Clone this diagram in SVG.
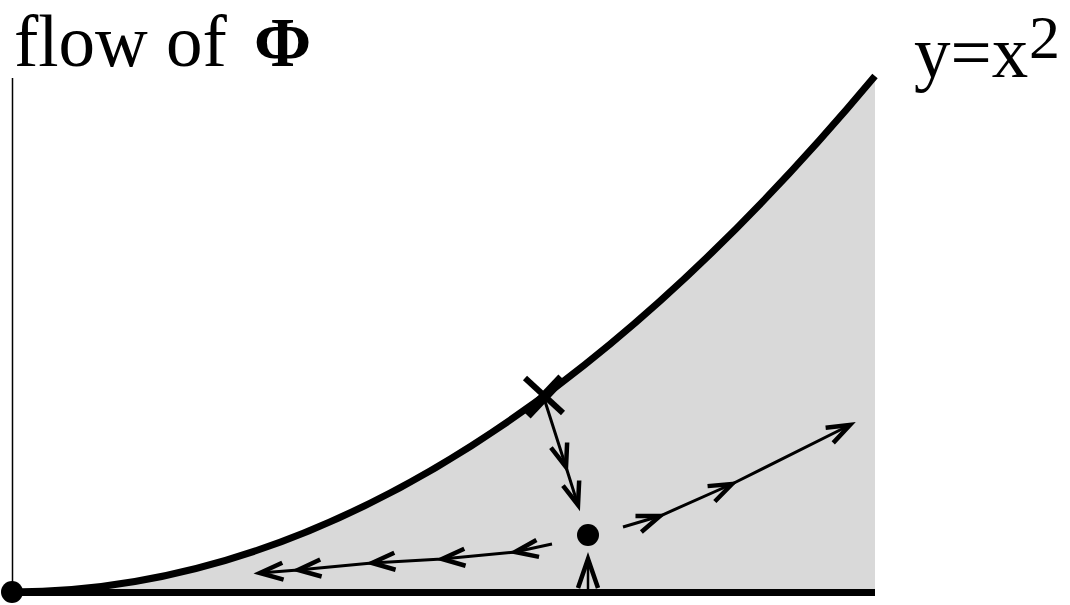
<svg xmlns="http://www.w3.org/2000/svg" width="1070" height="605" viewBox="0 0 1070 605">
  <defs>
    <style>
      .lbl { font-family: "Liberation Serif", "Times New Roman", serif; fill: #000; }
      .flow { fill: none; stroke: #000; stroke-width: 3; marker-mid: url(#head); marker-end: url(#head); }
    </style>
    <marker id="head" markerUnits="userSpaceOnUse" markerWidth="40" markerHeight="40" viewBox="-30 -15 40 30" refX="0" refY="0" orient="auto">
      <path d="M-23,-8.5 L0,0 L-23,8.5" fill="none" stroke="#000" stroke-width="4.5" stroke-linejoin="miter"/>
    </marker>
  </defs>
  <rect width="1070" height="605" fill="#fff"/>
  <g id="region">
    <path d="M12,592 Q443.5,592 875,76 L875,592 Z" fill="#d9d9d9"/>
  </g>
  <g id="axes">
    <line x1="12.5" y1="78" x2="12.5" y2="592" stroke="#000" stroke-width="1.5"/>
    <line x1="12" y1="592.5" x2="875" y2="592.5" stroke="#000" stroke-width="7"/>
  </g>
  <g id="parabola">
    <path d="M12,592 Q443.5,592 875,76" fill="none" stroke="#000" stroke-width="7"/>
  </g>
  <g id="origin">
    <circle cx="12" cy="592" r="11" fill="#000"/>
  </g>
  <g id="cross">
    <line x1="525" y1="378" x2="563" y2="413" stroke="#000" stroke-width="6"/>
    <line x1="527" y1="415" x2="562" y2="378" stroke="#000" stroke-width="10"/>
  </g>
  <g id="fixedpoint">
    <circle cx="588" cy="535" r="11" fill="#000"/>
  </g>
  <g id="connectors">
    <polyline class="flow" points="543,395 566,467 578,505"/>
    <polyline class="flow" points="552,544 515,552 442,559 372,563 298,570 260,573"/>
    <polyline class="flow" points="623,527 660,516 732,484 850,425"/>
    <line x1="588" y1="592" x2="588" y2="562" stroke="#000" stroke-width="2.5"/>
    <path d="M578,588 L588,559 L598,588" fill="none" stroke="#000" stroke-width="4.5"/>
  </g>
  <g id="labels">
    <text class="lbl" x="14" y="66" font-size="73">flow of</text>
    <text class="lbl" x="254" y="66" font-size="69" font-weight="bold">Φ</text>
    <text class="lbl" x="914" y="77" font-size="73">y=x</text>
    <text class="lbl" x="1029" y="58" font-size="62">2</text>
  </g>
</svg>
